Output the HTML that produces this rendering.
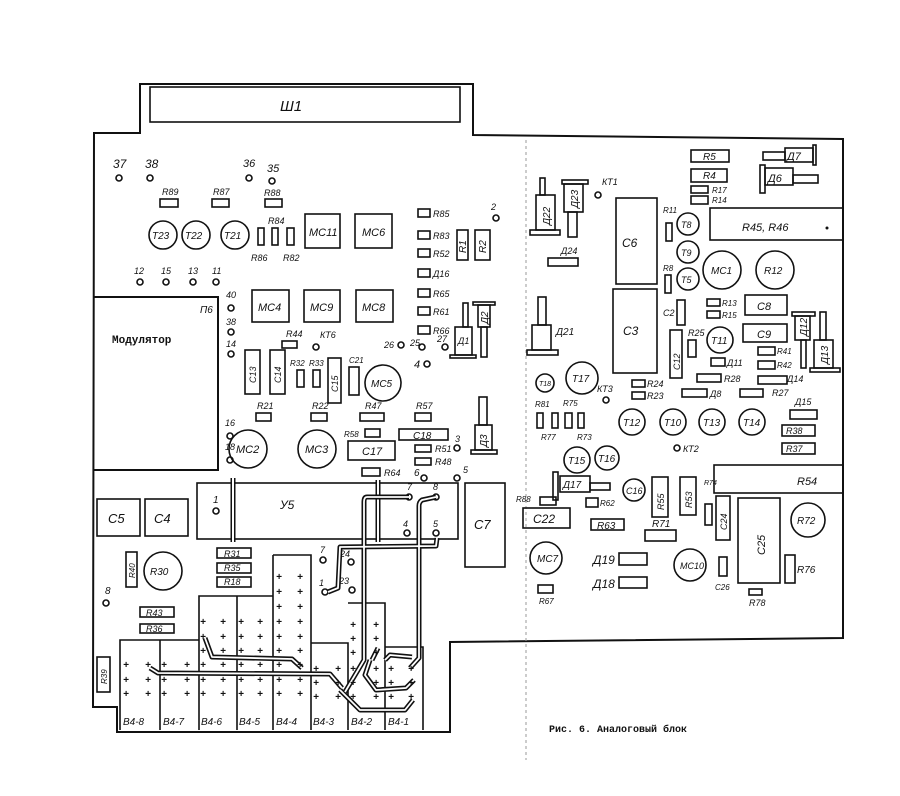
<!DOCTYPE html>
<html><head><meta charset="utf-8"><style>
html,body{margin:0;padding:0;background:#fff;}
svg{display:block}
text{font-family:"Liberation Sans","DejaVu Sans",sans-serif;font-style:italic;fill:#111;font-size:10px}
.b{fill:none;stroke:#111;stroke-width:2}
.t{fill:none;stroke:#111;stroke-width:1.6}
.c{fill:none;stroke:#111;stroke-width:1.6}
.p{font-style:normal;font-weight:bold;font-size:12px}
</style></head><body>
<svg width="900" height="796" viewBox="0 0 900 796" xmlns="http://www.w3.org/2000/svg">
<rect width="900" height="796" fill="#fff"/>
<path class="b" d="M94,133 L140,133 L140,84 L473,84 L473,135 L843,139 L843,638 L450,642 L450,732 L117,732 L117,707 L93,707 Z"/>
<rect class="t" x="150" y="87" width="310" height="35"/>
<text x="280" y="111" style="font-size:15px">Ш1</text>
<line x1="526" y1="140" x2="526" y2="760" stroke="#999" stroke-width="1" stroke-dasharray="3,3"/>
<path class="b" d="M93,297 L218,297 L218,470 L93,470"/>
<text x="200" y="313">П6</text>
<text x="112" y="343" style="font-style:normal;font-weight:bold;font-size:11px;font-family:'Liberation Mono',monospace">Модулятор</text>
<g class="c"><circle cx="119" cy="178" r="3"/><circle cx="150" cy="178" r="3"/><circle cx="249" cy="178" r="3"/><circle cx="272" cy="181" r="3"/><circle cx="496" cy="218" r="3"/>
<circle cx="140" cy="282" r="3"/><circle cx="166" cy="282" r="3"/><circle cx="193" cy="282" r="3"/><circle cx="216" cy="282" r="3"/>
<circle cx="231" cy="308" r="3"/><circle cx="231" cy="332" r="3"/><circle cx="231" cy="354" r="3"/><circle cx="316" cy="347" r="3"/>
<circle cx="401" cy="345" r="3"/><circle cx="422" cy="347" r="3"/><circle cx="445" cy="347" r="3"/><circle cx="427" cy="364" r="3"/>
<circle cx="230" cy="436" r="3"/><circle cx="230" cy="460" r="3"/><circle cx="457" cy="448" r="3"/><circle cx="424" cy="478" r="3"/><circle cx="457" cy="478" r="3"/>
<circle cx="216" cy="511" r="3"/><circle cx="106" cy="603" r="3"/><circle cx="323" cy="560" r="3"/><circle cx="351" cy="562" r="3"/><circle cx="325" cy="592" r="3"/><circle cx="352" cy="590" r="3"/>
<circle cx="409" cy="497" r="3"/><circle cx="436" cy="497" r="3"/><circle cx="407" cy="533" r="3"/><circle cx="436" cy="533" r="3"/>
<circle cx="598" cy="195" r="3"/><circle cx="606" cy="400" r="3"/><circle cx="677" cy="448" r="3"/></g>
<text x="113" y="168" style="font-size:12px">37</text><text x="145" y="168" style="font-size:12px">38</text>
<text x="243" y="167" style="font-size:11px">36</text><text x="267" y="172" style="font-size:11px">35</text>
<text x="491" y="210" style="font-size:9px">2</text>
<text x="134" y="274" style="font-size:9px">12</text><text x="161" y="274" style="font-size:9px">15</text><text x="188" y="274" style="font-size:9px">13</text><text x="212" y="274" style="font-size:9px">11</text>
<text x="226" y="298" style="font-size:9px">40</text><text x="226" y="325" style="font-size:9px">38</text><text x="226" y="347" style="font-size:9px">14</text>
<text x="320" y="338" style="font-size:9px">КТ6</text>
<text x="384" y="348" style="font-size:9px">26</text><text x="410" y="346" style="font-size:9px">25</text><text x="437" y="342" style="font-size:9px">27</text><text x="414" y="368" style="font-size:11px">4</text>
<text x="225" y="426" style="font-size:9px">16</text><text x="225" y="450" style="font-size:9px">18</text>
<text x="455" y="442" style="font-size:9px">3</text><text x="414" y="476" style="font-size:10px">6</text><text x="463" y="473" style="font-size:9px">5</text>
<text x="213" y="503" style="font-size:10px">1</text><text x="105" y="594" style="font-size:10px">8</text>
<text x="320" y="553" style="font-size:9px">7</text><text x="340" y="557" style="font-size:9px">24</text><text x="319" y="586" style="font-size:9px">1</text><text x="339" y="584" style="font-size:9px">23</text>
<text x="407" y="490" style="font-size:9px">7</text><text x="433" y="490" style="font-size:9px">8</text><text x="403" y="527" style="font-size:9px">4</text><text x="433" y="527" style="font-size:9px">5</text>
<text x="602" y="185" style="font-size:9px">КТ1</text><text x="597" y="392" style="font-size:9px">КТ3</text><text x="683" y="452" style="font-size:9px">КТ2</text>
<g class="c">
<rect x="160" y="199" width="18" height="8"/><rect x="212" y="199" width="17" height="8"/><rect x="265" y="199" width="17" height="8"/>
<rect x="258" y="228" width="6" height="17"/><rect x="272" y="228" width="6" height="17"/><rect x="287" y="228" width="7" height="17"/>
<rect x="305" y="214" width="35" height="34"/><rect x="355" y="214" width="37" height="34"/>
<rect x="252" y="290" width="37" height="32"/><rect x="304" y="290" width="36" height="32"/><rect x="356" y="290" width="37" height="32"/>
<rect x="418" y="209" width="12" height="8"/><rect x="418" y="231" width="12" height="8"/><rect x="418" y="249" width="12" height="8"/><rect x="418" y="269" width="12" height="8"/><rect x="418" y="289" width="12" height="8"/><rect x="418" y="307" width="12" height="8"/><rect x="418" y="326" width="12" height="8"/>
<rect x="457" y="230" width="11" height="30"/><rect x="475" y="230" width="15" height="30"/>
<rect x="282" y="341" width="15" height="7"/>
<rect x="245" y="350" width="15" height="44"/><rect x="270" y="350" width="15" height="44"/><rect x="297" y="370" width="7" height="17"/><rect x="313" y="370" width="7" height="17"/><rect x="328" y="358" width="13" height="45"/><rect x="349" y="367" width="10" height="28"/>
<circle cx="383" cy="383" r="18"/>
<circle cx="163" cy="235" r="14"/><circle cx="196" cy="235" r="14"/><circle cx="235" cy="235" r="14"/>
<rect x="256" y="413" width="15" height="8"/><rect x="311" y="413" width="16" height="8"/><rect x="360" y="413" width="24" height="8"/><rect x="415" y="413" width="16" height="8"/>
<rect x="365" y="429" width="15" height="8"/><rect x="399" y="429" width="49" height="11"/><rect x="348" y="441" width="47" height="19"/>
<rect x="415" y="445" width="16" height="7"/><rect x="415" y="458" width="16" height="7"/><rect x="362" y="468" width="18" height="8"/>
<circle cx="248" cy="449" r="19"/><circle cx="317" cy="449" r="19"/>
<rect x="463" y="303" width="5" height="24"/><rect x="455" y="327" width="17" height="28"/><rect x="450" y="355" width="26" height="3"/>
<rect x="473" y="302" width="22" height="3"/><rect x="478" y="305" width="12" height="22"/><rect x="481" y="327" width="6" height="30"/>
<rect x="479" y="397" width="8" height="28"/><rect x="475" y="425" width="17" height="25"/><rect x="471" y="450" width="26" height="4"/>
</g>
<g style="font-size:8px">
<text transform="translate(466,253) rotate(-90)">R1</text><text transform="translate(486,253) rotate(-90)">R2</text>
<text transform="translate(256,383) rotate(-90)" style="font-size:9px">C13</text><text transform="translate(281,383) rotate(-90)" style="font-size:9px">C14</text><text transform="translate(338,392) rotate(-90)" style="font-size:9px">C15</text>
<text transform="translate(488,324) rotate(-90)">Д2</text><text transform="translate(487,447) rotate(-90)">Д3</text>
</g>
<text x="162" y="195" style="font-size:9px">R89</text><text x="213" y="195" style="font-size:9px">R87</text><text x="264" y="196" style="font-size:9px">R88</text>
<text x="268" y="224" style="font-size:9px">R84</text><text x="251" y="261" style="font-size:9px">R86</text><text x="283" y="261" style="font-size:9px">R82</text>
<text x="152" y="239" style="font-size:10px">T23</text><text x="185" y="239" style="font-size:10px">T22</text><text x="224" y="239" style="font-size:10px">T21</text>
<text x="309" y="236" style="font-size:11px">MC11</text><text x="362" y="236" style="font-size:11px">MC6</text>
<text x="258" y="311" style="font-size:11px">MC4</text><text x="310" y="311" style="font-size:11px">MC9</text><text x="362" y="311" style="font-size:11px">MC8</text>
<text x="433" y="217" style="font-size:9px">R85</text><text x="433" y="239" style="font-size:9px">R83</text><text x="433" y="257" style="font-size:9px">R52</text><text x="433" y="277" style="font-size:9px">Д16</text><text x="433" y="297" style="font-size:9px">R65</text><text x="433" y="315" style="font-size:9px">R61</text><text x="433" y="334" style="font-size:9px">R66</text>
<text x="286" y="337" style="font-size:9px">R44</text>
<text x="290" y="366" style="font-size:8px">R32</text><text x="309" y="366" style="font-size:8px">R33</text><text x="349" y="363" style="font-size:8px">C21</text>
<text x="371" y="387" style="font-size:10px">MC5</text>
<text x="257" y="409" style="font-size:9px">R21</text><text x="312" y="409" style="font-size:9px">R22</text><text x="365" y="409" style="font-size:9px">R47</text><text x="416" y="409" style="font-size:9px">R57</text>
<text x="344" y="437" style="font-size:8px">R58</text><text x="413" y="439" style="font-size:10px">C18</text><text x="362" y="455" style="font-size:11px">C17</text>
<text x="435" y="452" style="font-size:9px">R51</text><text x="435" y="465" style="font-size:9px">R48</text><text x="384" y="476" style="font-size:9px">R64</text>
<text x="236" y="453" style="font-size:11px">MC2</text><text x="305" y="453" style="font-size:11px">MC3</text>
<text x="458" y="344" style="font-size:9px">Д1</text>
<g class="c">
<rect x="197" y="483" width="261" height="56"/>
<rect x="97" y="499" width="43" height="37"/><rect x="145" y="499" width="43" height="37"/>
<rect x="465" y="483" width="40" height="84"/>
<rect x="126" y="552" width="11" height="35"/><circle cx="163" cy="571" r="19"/>
<rect x="217" y="548" width="34" height="10"/><rect x="217" y="563" width="34" height="10"/><rect x="217" y="577" width="34" height="10"/>
<rect x="140" y="607" width="34" height="10"/><rect x="140" y="624" width="34" height="9"/>
<rect x="97" y="657" width="13" height="35"/>
</g>
<text transform="translate(135,578) rotate(-90)" style="font-size:8px">R40</text>
<text transform="translate(107,684) rotate(-90)" style="font-size:8px">R39</text>
<path d="M233,478 L233,542 M378,480 L378,542" stroke="#111" stroke-width="5" fill="none"/>
<path d="M233,478 L233,542 M378,480 L378,542" stroke="#fff" stroke-width="2" fill="none"/>
<text x="280" y="509" style="font-size:12px">У5</text><text x="108" y="523" style="font-size:13px">C5</text><text x="154" y="523" style="font-size:13px">C4</text><text x="474" y="529" style="font-size:13px">C7</text>
<text x="150" y="575" style="font-size:10px">R30</text>
<text x="224" y="557" style="font-size:9px">R31</text><text x="224" y="571" style="font-size:9px">R35</text><text x="224" y="585" style="font-size:9px">R18</text>
<text x="146" y="616" style="font-size:9px">R43</text><text x="146" y="632" style="font-size:9px">R36</text>
<g class="t">
<path d="M120,730 L120,640 L199,640 M160,640 L160,730 M199,596 L199,730 L199,596 L273,596 M237,596 L237,730 M273,555 L311,555 L311,730 M273,555 L273,730 M311,643 L348,643 L348,730 M348,603 L385,603 L385,730 M385,647 L423,647 L423,730"/>
</g>
<g fill="none" stroke="#111" stroke-width="5" stroke-linejoin="round">
<path d="M150,668 L158,673 L330,674 L342,688"/>
<path d="M205,638 L212,657 L292,659 L302,668"/>
<path d="M409,497 L367,497 Q364,497 364,502 L364,660 L345,692"/>
<path d="M436,497 L422,500 Q419,502 419,506 L419,658 L410,668"/>
<path d="M437,538 L436,546 L340,547 L338,588 L328,592"/>
<path d="M340,690 L360,710 L405,710 L413,700"/>
<path d="M370,660 L365,675 L376,690 L406,688 L414,680"/>
<path d="M372,660 L378,648 M385,660 L390,655 L412,657"/>
</g>
<g fill="none" stroke="#fff" stroke-width="1.8" stroke-linejoin="round">
<path d="M150,668 L158,673 L330,674 L342,688"/>
<path d="M205,638 L212,657 L292,659 L302,668"/>
<path d="M409,497 L367,497 Q364,497 364,502 L364,660 L345,692"/>
<path d="M436,497 L422,500 Q419,502 419,506 L419,658 L410,668"/>
<path d="M437,538 L436,546 L340,547 L338,588 L328,592"/>
<path d="M340,690 L360,710 L405,710 L413,700"/>
<path d="M370,660 L365,675 L376,690 L406,688 L414,680"/>
<path d="M372,660 L378,648 M385,660 L390,655 L412,657"/>
</g>
<g class="p">
<text x="123" y="668">+</text><text x="145" y="668">+</text><text x="123" y="683">+</text><text x="145" y="683">+</text><text x="123" y="697">+</text><text x="145" y="697">+</text>
<text x="161" y="668">+</text><text x="184" y="668">+</text><text x="161" y="683">+</text><text x="184" y="683">+</text><text x="161" y="697">+</text><text x="184" y="697">+</text>
<text x="200" y="625">+</text><text x="220" y="625">+</text><text x="200" y="640">+</text><text x="220" y="640">+</text><text x="200" y="654">+</text><text x="220" y="654">+</text><text x="200" y="668">+</text><text x="220" y="668">+</text><text x="200" y="683">+</text><text x="220" y="683">+</text><text x="200" y="697">+</text><text x="220" y="697">+</text>
<text x="238" y="625">+</text><text x="257" y="625">+</text><text x="238" y="640">+</text><text x="257" y="640">+</text><text x="238" y="654">+</text><text x="257" y="654">+</text><text x="238" y="668">+</text><text x="257" y="668">+</text><text x="238" y="683">+</text><text x="257" y="683">+</text><text x="238" y="697">+</text><text x="257" y="697">+</text>
<text x="276" y="580">+</text><text x="297" y="580">+</text><text x="276" y="595">+</text><text x="297" y="595">+</text><text x="276" y="610">+</text><text x="297" y="610">+</text><text x="276" y="625">+</text><text x="297" y="625">+</text><text x="276" y="640">+</text><text x="297" y="640">+</text><text x="276" y="654">+</text><text x="297" y="654">+</text><text x="276" y="668">+</text><text x="297" y="668">+</text><text x="276" y="683">+</text><text x="297" y="683">+</text><text x="276" y="697">+</text><text x="297" y="697">+</text>
<text x="313" y="672">+</text><text x="335" y="672">+</text><text x="313" y="686">+</text><text x="335" y="686">+</text><text x="313" y="700">+</text><text x="335" y="700">+</text>
<text x="350" y="628">+</text><text x="373" y="628">+</text><text x="350" y="642">+</text><text x="373" y="642">+</text><text x="350" y="656">+</text><text x="373" y="656">+</text><text x="350" y="672">+</text><text x="373" y="672">+</text><text x="350" y="686">+</text><text x="373" y="686">+</text><text x="350" y="700">+</text><text x="373" y="700">+</text>
<text x="388" y="672">+</text><text x="408" y="672">+</text><text x="388" y="686">+</text><text x="408" y="686">+</text><text x="388" y="700">+</text><text x="408" y="700">+</text>
</g>
<g style="font-size:10px">
<text x="123" y="725">B4-8</text><text x="163" y="725">B4-7</text><text x="201" y="725">B4-6</text><text x="239" y="725">B4-5</text><text x="276" y="725">B4-4</text><text x="313" y="725">B4-3</text><text x="351" y="725">B4-2</text><text x="388" y="725">B4-1</text>
</g>
<text x="549" y="732" style="font-style:normal;font-weight:bold;font-size:10px;font-family:'Liberation Mono',monospace">Рис. 6. Аналоговый блок</text>
<g class="c">
<rect x="710" y="208" width="133" height="32"/><rect x="714" y="465" width="129" height="28"/>
<rect x="540" y="178" width="5" height="17"/><rect x="536" y="195" width="19" height="35"/><rect x="530" y="230" width="30" height="5"/>
<rect x="562" y="180" width="26" height="4"/><rect x="564" y="184" width="19" height="28"/><rect x="568" y="212" width="9" height="25"/>
<rect x="548" y="258" width="30" height="8"/>
<rect x="538" y="297" width="8" height="28"/><rect x="532" y="325" width="19" height="25"/><rect x="527" y="350" width="31" height="5"/>
<rect x="616" y="198" width="41" height="86"/><rect x="613" y="289" width="44" height="84"/>
<rect x="666" y="223" width="6" height="18"/><rect x="665" y="275" width="6" height="18"/>
<circle cx="688" cy="224" r="11"/><circle cx="688" cy="252" r="11"/><circle cx="688" cy="279" r="11"/>
<rect x="691" y="150" width="38" height="12"/><rect x="691" y="169" width="36" height="13"/><rect x="691" y="186" width="17" height="7"/><rect x="691" y="196" width="17" height="8"/>
<rect x="763" y="152" width="22" height="8"/><rect x="785" y="148" width="28" height="14"/><rect x="813" y="145" width="3" height="20"/>
<rect x="760" y="165" width="5" height="28"/><rect x="765" y="168" width="28" height="17"/><rect x="793" y="175" width="25" height="8"/>
<circle cx="722" cy="270" r="19"/><circle cx="775" cy="270" r="19"/>
<rect x="707" y="299" width="13" height="7"/><rect x="707" y="311" width="13" height="7"/>
<rect x="745" y="295" width="42" height="20"/><rect x="743" y="324" width="44" height="18"/>
<rect x="677" y="300" width="8" height="25"/><rect x="670" y="330" width="12" height="48"/><rect x="688" y="340" width="8" height="17"/>
<circle cx="720" cy="340" r="13"/>
<rect x="792" y="312" width="23" height="4"/><rect x="795" y="316" width="15" height="24"/><rect x="801" y="340" width="5" height="28"/>
<rect x="820" y="312" width="6" height="28"/><rect x="814" y="340" width="19" height="28"/><rect x="810" y="368" width="30" height="4"/>
<rect x="711" y="358" width="14" height="8"/><rect x="758" y="347" width="17" height="8"/><rect x="758" y="361" width="17" height="8"/>
<rect x="697" y="374" width="24" height="8"/><rect x="758" y="376" width="29" height="8"/><rect x="682" y="389" width="25" height="8"/><rect x="740" y="389" width="23" height="8"/>
<rect x="632" y="380" width="13" height="7"/><rect x="632" y="392" width="13" height="7"/>
<circle cx="582" cy="378" r="16"/><circle cx="545" cy="383" r="9"/>
<rect x="537" y="413" width="6" height="15"/><rect x="552" y="413" width="6" height="15"/><rect x="565" y="413" width="7" height="15"/><rect x="578" y="413" width="6" height="15"/>
<circle cx="632" cy="422" r="13"/><circle cx="673" cy="422" r="13"/><circle cx="712" cy="422" r="13"/><circle cx="752" cy="422" r="13"/>
<rect x="790" y="410" width="27" height="9"/><rect x="782" y="425" width="33" height="11"/><rect x="782" y="443" width="33" height="11"/>
<circle cx="577" cy="460" r="13"/><circle cx="607" cy="458" r="12"/>
<rect x="553" y="472" width="5" height="28"/><rect x="560" y="476" width="30" height="16"/><rect x="590" y="483" width="20" height="7"/>
<circle cx="634" cy="490" r="11"/>
<rect x="652" y="477" width="16" height="40"/><rect x="680" y="477" width="16" height="38"/><rect x="705" y="504" width="7" height="21"/>
<rect x="716" y="496" width="14" height="44"/><rect x="738" y="498" width="42" height="85"/><circle cx="808" cy="520" r="17"/>
<rect x="540" y="497" width="16" height="8"/><rect x="523" y="508" width="47" height="20"/><rect x="586" y="498" width="12" height="9"/>
<rect x="591" y="519" width="33" height="11"/><rect x="645" y="530" width="31" height="11"/>
<circle cx="546" cy="558" r="16"/><rect x="538" y="585" width="15" height="8"/>
<rect x="619" y="553" width="28" height="12"/><rect x="619" y="577" width="28" height="11"/>
<circle cx="690" cy="565" r="16"/><rect x="719" y="557" width="8" height="19"/><rect x="785" y="555" width="10" height="28"/><rect x="749" y="589" width="13" height="6"/>
</g>
<circle cx="827" cy="228" r="1.5" fill="#111"/>
<g style="font-size:8px">
<text transform="translate(550,225) rotate(-90)">Д22</text><text transform="translate(578,208) rotate(-90)">Д23</text>
<text transform="translate(680,370) rotate(-90)" style="font-size:9px">C12</text>
<text transform="translate(807,336) rotate(-90)">Д12</text><text transform="translate(828,364) rotate(-90)">Д13</text>
<text transform="translate(664,510) rotate(-90)" style="font-size:9px">R55</text><text transform="translate(692,508) rotate(-90)" style="font-size:9px">R53</text>
<text transform="translate(727,530) rotate(-90)" style="font-size:9px">C24</text><text transform="translate(765,555) rotate(-90)" style="font-size:11px">C25</text>
</g>
<g style="font-size:9px">
<text x="703" y="160">R5</text><text x="703" y="179">R4</text><text x="712" y="193" style="font-size:8px">R17</text><text x="712" y="203" style="font-size:8px">R14</text>
<text x="787" y="160" style="font-size:11px">Д7</text><text x="768" y="182" style="font-size:11px">Д6</text>
<text x="742" y="231" style="font-size:11px">R45, R46</text><text x="797" y="485" style="font-size:11px">R54</text>
<text x="663" y="213" style="font-size:8px">R11</text><text x="663" y="271" style="font-size:8px">R8</text>
<text x="681" y="228" style="font-size:9px">T8</text><text x="681" y="256" style="font-size:9px">T9</text><text x="681" y="283" style="font-size:9px">T5</text>
<text x="622" y="247" style="font-size:12px">C6</text><text x="623" y="335" style="font-size:12px">C3</text>
<text x="711" y="274" style="font-size:10px">MC1</text><text x="764" y="274" style="font-size:10px">R12</text>
<text x="722" y="306" style="font-size:8px">R13</text><text x="722" y="318" style="font-size:8px">R15</text>
<text x="757" y="310" style="font-size:11px">C8</text><text x="757" y="338" style="font-size:11px">C9</text>
<text x="663" y="316" style="font-size:9px">C2</text><text x="688" y="336" style="font-size:9px">R25</text><text x="711" y="344" style="font-size:10px">T11</text>
<text x="777" y="354" style="font-size:8px">R41</text><text x="777" y="368" style="font-size:8px">R42</text>
<text x="727" y="366" style="font-size:9px">Д11</text><text x="724" y="382" style="font-size:9px">R28</text><text x="787" y="382" style="font-size:9px">Д14</text>
<text x="710" y="397" style="font-size:9px">Д8</text><text x="772" y="396" style="font-size:9px">R27</text>
<text x="647" y="387" style="font-size:9px">R24</text><text x="647" y="399" style="font-size:9px">R23</text>
<text x="572" y="382" style="font-size:10px">T17</text><text x="539" y="386" style="font-size:7px">T18</text>
<text x="535" y="407" style="font-size:8px">R81</text><text x="563" y="406" style="font-size:8px">R75</text><text x="541" y="440" style="font-size:8px">R77</text><text x="577" y="440" style="font-size:8px">R73</text>
<text x="623" y="426" style="font-size:10px">T12</text><text x="664" y="426" style="font-size:10px">T10</text><text x="703" y="426" style="font-size:10px">T13</text><text x="743" y="426" style="font-size:10px">T14</text>
<text x="795" y="405" style="font-size:9px">Д15</text><text x="786" y="434" style="font-size:9px">R38</text><text x="786" y="452" style="font-size:9px">R37</text>
<text x="568" y="464" style="font-size:10px">T15</text><text x="598" y="462" style="font-size:10px">T16</text>
<text x="563" y="488" style="font-size:10px">Д17</text><text x="626" y="494" style="font-size:9px">C16</text>
<text x="516" y="502" style="font-size:8px">R88</text><text x="600" y="506" style="font-size:8px">R62</text>
<text x="533" y="523" style="font-size:12px">C22</text><text x="597" y="529">R63</text><text x="652" y="527">R71</text>
<text x="704" y="485" style="font-size:7px">R74</text>
<text x="537" y="562" style="font-size:10px">MC7</text><text x="539" y="604" style="font-size:8px">R67</text>
<text x="593" y="564" style="font-size:12px">Д19</text><text x="593" y="588" style="font-size:12px">Д18</text>
<text x="680" y="569" style="font-size:9px">MC10</text><text x="715" y="590" style="font-size:8px">C26</text><text x="797" y="573" style="font-size:10px">R76</text><text x="749" y="606" style="font-size:9px">R78</text>
<text x="797" y="524" style="font-size:10px">R72</text><text x="561" y="254" style="font-size:9px">Д24</text><text x="556" y="335" style="font-size:10px">Д21</text>
</g>
</svg>
</body></html>
